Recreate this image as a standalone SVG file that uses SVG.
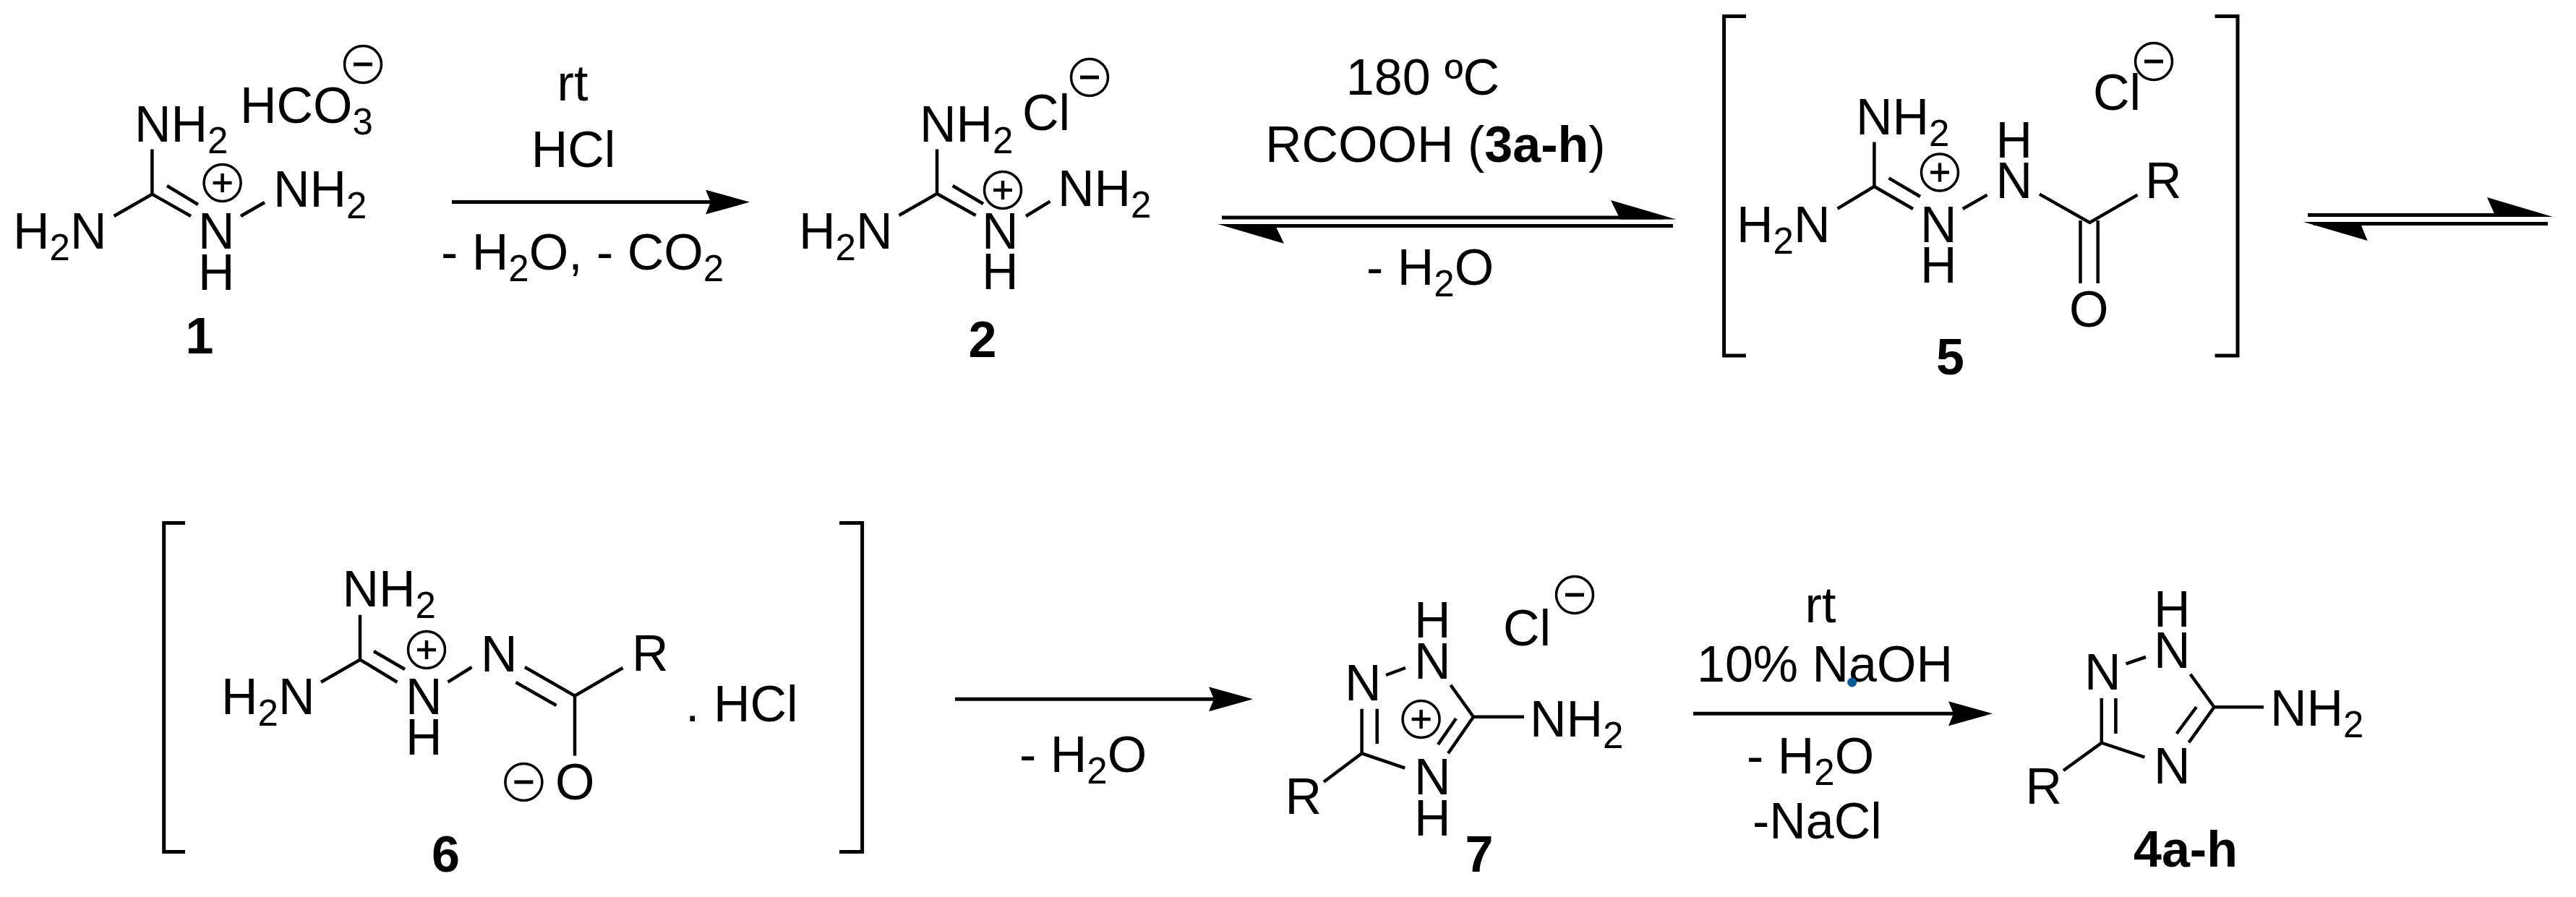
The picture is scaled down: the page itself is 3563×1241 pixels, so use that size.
<svg xmlns="http://www.w3.org/2000/svg" width="3563" height="1241" viewBox="0 0 3563 1241">
<style>
text{font-family:"Liberation Sans",Arial,sans-serif;font-size:70px;fill:#000}
.b{font-weight:bold}
.m{text-anchor:middle}
.s{font-size:51px}
.bond{stroke:#000;stroke-width:4.5;fill:none}
.rx{stroke:#000;stroke-width:5;fill:none}
.brk{stroke:#000;stroke-width:5;fill:none}
.hd{fill:#000}
.ring{stroke:#000;stroke-width:3.5;fill:none}
</style>
<defs>
<marker id="ah" markerUnits="userSpaceOnUse" markerWidth="61" markerHeight="34" refX="21" refY="17" orient="auto"><path class="hd" d="M0 0L61 17L0 34L7 17Z"/></marker>
<g id="plus"><circle class="ring" r="25.5"/><path class="bond" d="M-13 0H13M0-13V13"/></g>
<g id="minus"><circle class="ring" r="25.5"/><path d="M-13 0H13" stroke="#000" stroke-width="5" fill="none"/></g>
</defs>
<rect width="3563" height="1241" fill="#fff"/>

<g id="connectors">
<path class="rx" d="M625 279.6H997" marker-end="url(#ah)"/>
<path class="rx" d="M1690 301H2300M1700 312.5H2314"/>
<polygon class="hd" points="2318.5,303.5 2228,277 2241,303.5"/>
<polygon class="hd" points="1684.5,310 1776,337 1763,310"/>
<path class="rx" d="M3192 297.5H3515M3200 309.6H3524"/>
<polygon class="hd" points="3531,300 3440,273 3452,300"/>
<polygon class="hd" points="3186,307 3274.6,333 3264,307"/>
<path class="rx" d="M1321 967.3H1693" marker-end="url(#ah)"/>
<path class="rx" d="M2342 987.3H2716" marker-end="url(#ah)"/>
</g>

<g id="node-1">
<path class="bond" d="M210.4 206.4V268.6L157.6 299M210.4 268.6L264 299M231 257L274 283M333 299L366 280"/>
<text x="186" y="196">NH<tspan class="s" dy="16">2</tspan></text>
<text x="18" y="344">H<tspan class="s" dy="16">2</tspan><tspan dy="-16">N</tspan></text>
<text x="274" y="344">N</text>
<text x="274" y="401">H</text>
<text x="378" y="286">NH<tspan class="s" dy="16">2</tspan></text>
<use href="#plus" x="307.6" y="253"/>
<text x="332" y="170">HCO<tspan class="s" dy="16">3</tspan></text>
<use href="#minus" x="502" y="89"/>
<text class="b m" x="276" y="489">1</text>
</g>

<g id="label-r1">
<text class="m" x="792" y="138.6">rt</text>
<text class="m" x="793" y="231">HCl</text>
<text x="610" y="373">- H<tspan class="s" dy="16">2</tspan><tspan dy="-16">O, - CO</tspan><tspan class="s" dy="16">2</tspan></text>
</g>

<g id="node-2">
<path class="bond" d="M1296 206.4V268L1243.5 298M1296 268L1349.6 298M1317.7 257L1360 282M1419 299L1452.5 278.6"/>
<text x="1272" y="196">NH<tspan class="s" dy="16">2</tspan></text>
<text x="1105" y="343.6">H<tspan class="s" dy="16">2</tspan><tspan dy="-16">N</tspan></text>
<text x="1358" y="343.6">N</text>
<text x="1358" y="400">H</text>
<text x="1463" y="285">NH<tspan class="s" dy="16">2</tspan></text>
<use href="#plus" x="1387" y="263"/>
<text x="1414" y="179.6">Cl</text>
<use href="#minus" x="1507" y="107"/>
<text class="b m" x="1359" y="493.5">2</text>
</g>

<g id="label-r2">
<text class="m" x="1968" y="131.4">180 ºC</text>
<text x="1750" y="224">RCOOH (<tspan class="b">3a-h</tspan>)</text>
<text x="1890" y="393.6">- H<tspan class="s" dy="16">2</tspan><tspan dy="-16">O</tspan></text>
</g>

<g id="node-5">
<path class="brk" d="M2415 22.5H2384.6V492H2415M3063.6 22.5H3095V492H3063.6"/>
<path class="bond" d="M2592.4 196.4V258L2541.6 288.6M2592.4 258L2646 289M2612.5 246.4L2656 272M2714.8 289L2748.6 269.6M2821 268.6L2890.4 308L2956.5 269.6M2877.5 305V392M2901.7 305V392"/>
<text x="2567" y="185.7">NH<tspan class="s" dy="16">2</tspan></text>
<text x="2402" y="334.6">H<tspan class="s" dy="16">2</tspan><tspan dy="-16">N</tspan></text>
<text x="2656" y="334.6">N</text>
<text x="2656" y="391">H</text>
<text x="2760.6" y="218">H</text>
<text x="2760.6" y="274.3">N</text>
<text x="2967" y="274.3">R</text>
<text x="2862" y="452">O</text>
<use href="#plus" x="2683" y="238.5"/>
<text x="2895" y="152">Cl</text>
<use href="#minus" x="2979" y="85"/>
<text class="b m" x="2697.5" y="518">5</text>
</g>

<g id="node-6">
<path class="brk" d="M256 723.6H226.7V1178.4H256M1161 723.6H1192.6V1178.4H1161"/>
<path class="bond" d="M498 850.7V912.6L444 943.7M498 912.6L549.4 943.7M517 901L560 926M619.5 943.7L652.5 923M726 923L795 962.6L861.5 924M713.5 944L769.6 976M795 962.6V1045.6"/>
<text x="473.5" y="839">NH<tspan class="s" dy="16">2</tspan></text>
<text x="306" y="988.4">H<tspan class="s" dy="16">2</tspan><tspan dy="-16">N</tspan></text>
<text x="561" y="988.4">N</text>
<text x="561" y="1044">H</text>
<text x="665" y="928.7">N</text>
<text x="874" y="928">R</text>
<text x="768" y="1105.8">O</text>
<text x="948" y="998.4">. HCl</text>
<use href="#plus" x="590" y="899"/>
<use href="#minus" x="724.4" y="1082"/>
<text class="b m" x="616.5" y="1206">6</text>
</g>

<g id="label-r3">
<text x="1410" y="1068.3">- H<tspan class="s" dy="16">2</tspan><tspan dy="-16">O</tspan></text>
</g>

<g id="node-7">
<path class="bond" d="M1917 934L1944 924M2006.4 947.7L2038 991.7H2108M2038 991.7L2003 1042.3M2014 994L1989 1030M1943.3 1062.7L1883.6 1042.3L1831 1081.7M1883.6 1042.3V980.7M1904.7 980.7V1029"/>
<text x="1860" y="969.3">N</text>
<text x="1956" y="939.3">N</text>
<text x="1956" y="882.3">H</text>
<text x="1956" y="1099.3">N</text>
<text x="1956" y="1156">H</text>
<text x="2116" y="1019.3">NH<tspan class="s" dy="16">2</tspan></text>
<text x="1777.5" y="1126">R</text>
<use href="#plus" x="1965.6" y="995"/>
<text x="2079" y="893.3">Cl</text>
<use href="#minus" x="2178" y="823"/>
<text class="b m" x="2046" y="1205.7">7</text>
</g>

<g id="label-r4">
<text class="m" x="2518" y="860.7">rt</text>
<text x="2347" y="943.3">10% NaOH</text>
<text x="2416" y="1070">- H<tspan class="s" dy="16">2</tspan><tspan dy="-16">O</tspan></text>
<text x="2424" y="1160">-NaCl</text>
<circle cx="2561.7" cy="944" r="6.5" fill="#0b5a96"/>
</g>

<g id="node-4">
<path class="bond" d="M2940.5 918.3L2968 909M3029.6 932.7L3062.5 978.3H3131M3062.5 978.3L3027.5 1027.3M3038 978L3010.6 1015M2966.4 1047.7L2906.8 1027.7L2854 1066M2906.8 1027.7V966M2926.4 966V1015"/>
<text x="2883" y="954.3">N</text>
<text x="2979" y="924.3">N</text>
<text x="2979" y="867.3">H</text>
<text x="2979" y="1084.3">N</text>
<text x="3140" y="1004.3">NH<tspan class="s" dy="16">2</tspan></text>
<text x="2801.5" y="1112.3">R</text>
<text class="b" x="2951" y="1199.3">4a-h</text>
</g>
</svg>
